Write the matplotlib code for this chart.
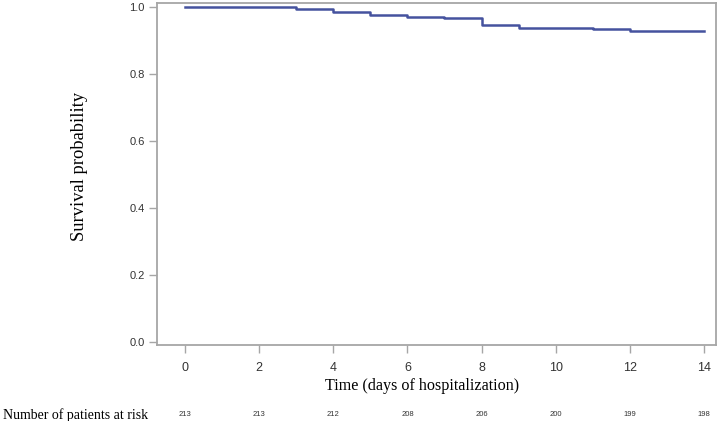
import matplotlib
matplotlib.use("Agg")
import matplotlib.pyplot as plt

# Kaplan-Meier estimate
event_days = [0, 3, 4, 5, 6, 7, 8, 9, 11, 12, 14]
survival = [1.0, 0.995, 0.986, 0.977, 0.972, 0.967, 0.948, 0.939, 0.934, 0.929, 0.929]

# numbers at risk under the x axis
risk_days = [0, 2, 4, 6, 8, 10, 12, 14]
at_risk = [213, 213, 212, 208, 206, 200, 199, 198]

serif = ["Liberation Serif", "DejaVu Serif"]
sans = ["Liberation Sans", "DejaVu Sans"]
spine_col = "#a6a6a6"
text_col = "#333333"

fig = plt.figure(figsize=(7.22, 4.21), dpi=100)
ax = fig.add_axes([157 / 722, 1 - 345 / 421, (716 - 157) / 722, (345 - 3) / 421])

ax.step(event_days, survival, where="post", color="#45529e", linewidth=1.8)

ax.set_xlim(-0.76, 14.33)
ax.set_ylim(-0.008, 1.013)
ax.set_xticks(risk_days)
ax.set_yticks([0.0, 0.2, 0.4, 0.6, 0.8, 1.0])
ax.set_yticklabels(["0.0", "0.2", "0.4", "0.6", "0.8", "1.0"])

for s in ax.spines.values():
    s.set_color(spine_col)
    s.set_linewidth(1.3)
ax.tick_params(axis="both", color=spine_col, length=6, width=1, labelcolor=text_col)
ax.tick_params(axis="x", pad=6)
ax.tick_params(axis="y", pad=3)
for lbl in ax.get_xticklabels():
    lbl.set_family(sans)
    lbl.set_fontsize(9)
for lbl in ax.get_yticklabels():
    lbl.set_family(sans)
    lbl.set_fontsize(8)

fig.text(79 / 722, 1 - 166 / 421, "Survival probability", rotation=90,
         ha="center", va="center", family=serif, fontsize=13.3, color="black")
fig.text(422 / 722, 1 - 386 / 421, "Time (days of hospitalization)",
         ha="center", va="center", family=serif, fontsize=11.6, color="black")

# at-risk table row
y_risk = 1 - 415 / 421
fig.text(3 / 722, y_risk, "Number of patients at risk", ha="left", va="center",
         family=serif, fontsize=10, color="black")
for d, n in zip(risk_days, at_risk):
    xf = fig.transFigure.inverted().transform(ax.transData.transform((d, 0)))[0]
    fig.text(xf, y_risk, str(n), ha="center", va="center",
             family=sans, fontsize=5.5, color=text_col)

fig.savefig("out.png", dpi=100)
